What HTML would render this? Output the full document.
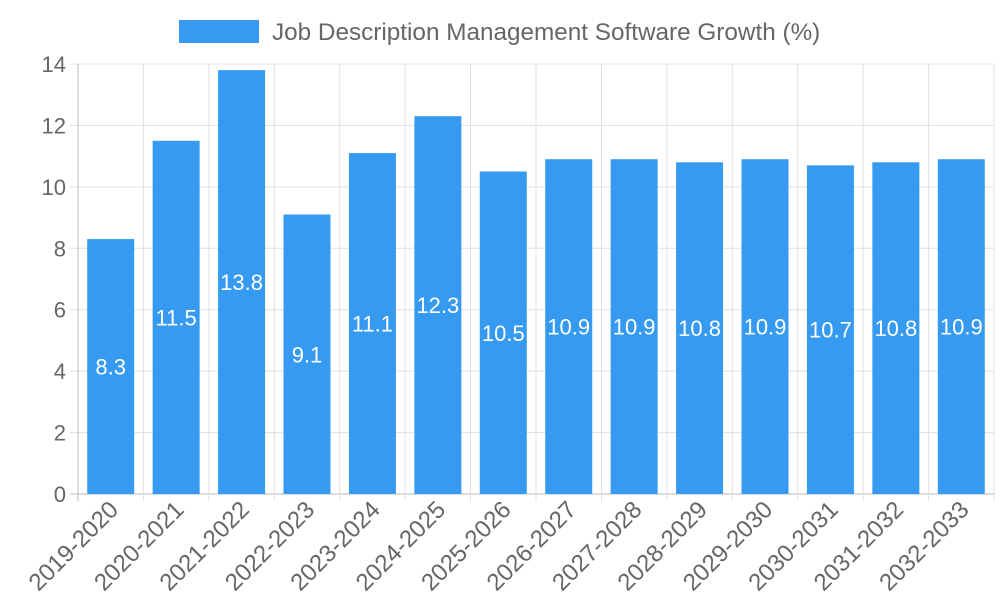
<!DOCTYPE html>
<html><head><meta charset="utf-8"><style>
html,body{margin:0;padding:0;background:#fff;}
svg{display:block;font-family:"Liberation Sans",sans-serif;}
</style></head><body>
<svg id="chart" width="1000" height="600"></svg>
<script>
const categories=["2019-2020","2020-2021","2021-2022","2022-2023","2023-2024","2024-2025","2025-2026","2026-2027","2027-2028","2028-2029","2029-2030","2030-2031","2031-2032","2032-2033"];
const values=[8.3,11.5,13.8,9.1,11.1,12.3,10.5,10.9,10.9,10.8,10.9,10.7,10.8,10.9];
const yTicks=[0,2,4,6,8,10,12,14];
const seriesName="Job Description Management Software Growth (%)";

const NS="http://www.w3.org/2000/svg";
const svg=document.getElementById('chart');
const L=78,R=994,T=64,B=494,yMax=14;
const bw=(R-L)/categories.length;
const y=v=>B-(v/yMax)*(B-T);
const x=i=>L+bw*i;
function mk(tag,attrs,parent){const e=document.createElementNS(NS,tag);for(const k in attrs)e.setAttribute(k,attrs[k]);(parent||svg).appendChild(e);return e;}

const grid=mk('g',{});


yTicks.forEach(t=>{
  const l=mk('line',{x1:L-8,x2:R,y1:y(t),y2:y(t),stroke:t===0?'#bbb':'#e0e0e0','stroke-width':1},grid);
  
  
  const tx=mk('text',{x:L-12,y:y(t)+8,'text-anchor':'end','font-size':22,fill:'#666'});
  tx.textContent=t;
  
  
});
for(let i=0;i<=categories.length;i++){
  const l=mk('line',{x1:x(i),x2:x(i),y1:T,y2:B+7,stroke:i===0?'#bbb':'#e0e0e0','stroke-width':1},grid);
  
  
}
values.forEach((v,i)=>{
  const cx=x(i)+bw/2;
  const r=mk('rect',{x:cx-23.5,y:y(v),width:47,height:B-y(v),fill:'#369bf0'});
  
  
  const t=mk('text',{x:cx,y:(y(v)+B)/2+8,'text-anchor':'middle','font-size':22,fill:'#fff'});
  t.textContent=v;
  
  
  const ax=cx+9,ay=B+17;
  const xl=mk('text',{x:ax,y:ay,'text-anchor':'end','font-size':24,fill:'#666',transform:`rotate(-45 ${ax} ${ay})`});
  xl.textContent=categories[i];
  
  
});
const lb=mk('rect',{x:179,y:20,width:80,height:23,fill:'#369bf0'});


const lt=mk('text',{x:272,y:40,'font-size':24.3,fill:'#666'});
lt.textContent=seriesName;


</script>
</body></html>
